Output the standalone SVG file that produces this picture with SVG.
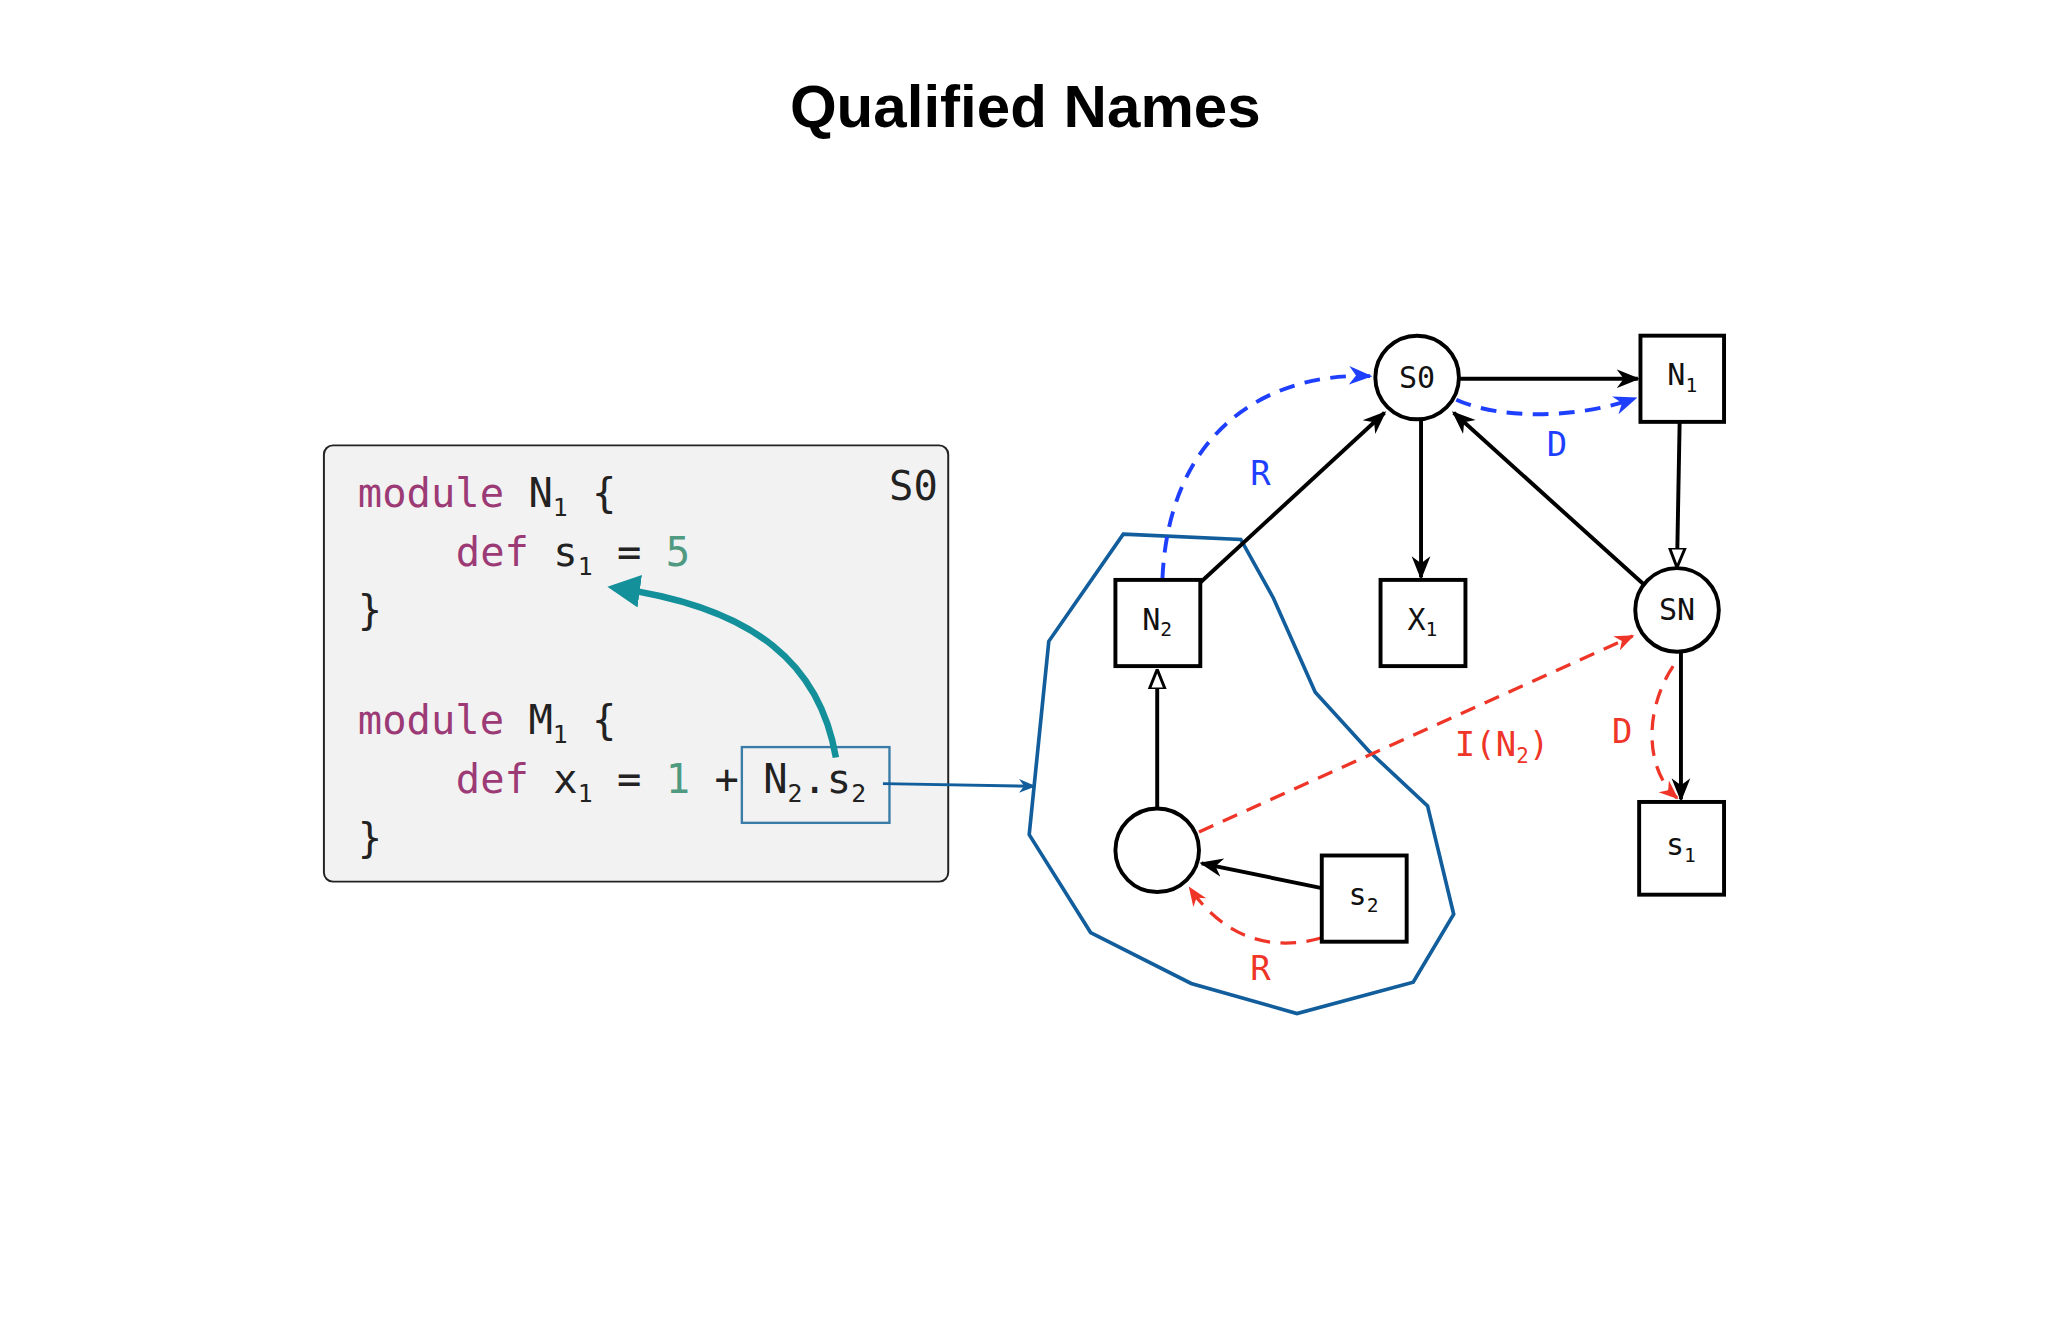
<svg xmlns="http://www.w3.org/2000/svg" width="2048" height="1331" viewBox="0 0 2048 1331">
<style>
.code{font-family:"DejaVu Sans Mono",monospace;font-size:31px;fill:#222}
.kw{fill:#9c3a76}.num{fill:#4f9a80}
.sub{font-size:19px}
.nl{font-family:"DejaVu Sans Mono",monospace;font-size:23px;fill:#111;text-anchor:middle}
.nsub{font-size:15px}
.node{fill:#fff;stroke:#000;stroke-width:3}
.e{fill:none;stroke:#000;stroke-width:3}
.bd{fill:none;stroke:#1f3fff;stroke-width:3;stroke-dasharray:12 8}
.rd{fill:none;stroke:#ee3528;stroke-width:2.5;stroke-dasharray:12 8}
.lb{font-family:"DejaVu Sans Mono",monospace;font-size:26px;text-anchor:middle}
</style>
<defs>
<marker id="ab" viewBox="0 0 10 10" refX="9" refY="5" markerWidth="6" markerHeight="6" orient="auto" markerUnits="strokeWidth"><path d="M0,1 L10,5 L0,9 L3,5 z" fill="#000"/></marker>
<marker id="ah" viewBox="0 0 10 10" refX="9" refY="5" markerWidth="5" markerHeight="5" orient="auto" markerUnits="strokeWidth"><path d="M0,1 L10,5 L0,9 z" fill="#fff" stroke="#000" stroke-width="1.5"/></marker>
<marker id="abl" viewBox="0 0 10 10" refX="9" refY="5" markerWidth="6" markerHeight="6" orient="auto" markerUnits="strokeWidth"><path d="M0,1 L10,5 L0,9 L3,5 z" fill="#1f3fff"/></marker>
<marker id="ar" viewBox="0 0 10 10" refX="9" refY="5" markerWidth="6" markerHeight="6" orient="auto" markerUnits="strokeWidth"><path d="M0,1 L10,5 L0,9 L3,5 z" fill="#ee3528"/></marker>
<marker id="at" viewBox="0 0 10 10" refX="8" refY="5" markerWidth="5" markerHeight="5" orient="auto" markerUnits="strokeWidth"><path d="M0,0 L10,5 L0,10 z" fill="#14909a"/></marker>
<marker id="abb" viewBox="0 0 10 10" refX="9" refY="5" markerWidth="6" markerHeight="6" orient="auto" markerUnits="strokeWidth"><path d="M0,1 L10,5 L0,9 L3,5 z" fill="#125e9c"/></marker>
</defs>
<rect width="2048" height="1331" fill="#fff"/>
<g transform="scale(1.3061)">
<text x="785" y="97" text-anchor="middle" font-family="Liberation Sans,Arial,sans-serif" font-weight="bold" font-size="46">Qualified Names</text>
<g id="code">
<rect x="248" y="341" width="478" height="334" rx="7" fill="#f2f2f3" stroke="#222" stroke-width="1.5"/>
<text x="718" y="383" class="code" font-size="34" text-anchor="end">S0</text>
<text class="code" x="274" y="388"><tspan class="kw">module</tspan> N<tspan class="sub" dy="7">1</tspan><tspan dy="-7"> {</tspan></text>
<text class="code" x="349" y="433"><tspan class="kw">def</tspan> s<tspan class="sub" dy="7">1</tspan><tspan dy="-7"> = </tspan><tspan class="num">5</tspan></text>
<text class="code" x="274" y="478">}</text>
<text class="code" x="274" y="562"><tspan class="kw">module</tspan> M<tspan class="sub" dy="7">1</tspan><tspan dy="-7"> {</tspan></text>
<text class="code" x="349" y="607"><tspan class="kw">def</tspan> x<tspan class="sub" dy="7">1</tspan><tspan dy="-7"> = </tspan><tspan class="num">1</tspan> + N<tspan class="sub" dy="7">2</tspan><tspan dy="-7">.s</tspan><tspan class="sub" dy="7">2</tspan></text>
<text class="code" x="274" y="652">}</text>
<rect x="568" y="572" width="113" height="58" fill="none" stroke="#3a7ca5" stroke-width="1.8"/>
</g>
<g id="connectors">
<path d="M640,580 C628,510 580,465 470,450" fill="none" stroke="#14909a" stroke-width="5" marker-end="url(#at)"/>
<path d="M676,600 L792,602" fill="none" stroke="#125e9c" stroke-width="2.2" marker-end="url(#abb)"/>
<polygon points="860,409 950,413 975,458 1007,530 1048,575 1093,617 1113,700 1082,752 993,776 912,753 835,714 788,639 803,491" fill="none" stroke="#125e9c" stroke-width="2.8"/>
<path class="e" d="M1117,290 L1254,290" stroke-width="4" marker-end="url(#ab)"/>
<path class="e" d="M919,446 L1060,316" marker-end="url(#ab)"/>
<path class="e" d="M1088,322 L1088,442" marker-end="url(#ab)"/>
<path class="e" d="M1258,447 L1113,316" marker-end="url(#ab)"/>
<path class="e" d="M1286,323 L1284,433" marker-end="url(#ah)"/>
<path class="e" d="M1287,500 L1287,612" marker-end="url(#ab)"/>
<path class="e" d="M886,618 L886,514" marker-end="url(#ah)"/>
<path class="e" d="M1012,680 L920,661" marker-end="url(#ab)"/>
<path class="bd" d="M1115,306 C1150,322 1210,320 1252,305" marker-end="url(#abl)"/>
<path class="bd" d="M890,443 C895,330 970,285 1049,288" marker-end="url(#abl)"/>
<path class="rd" d="M918,637 L1250,487" marker-end="url(#ar)"/>
<path class="rd" d="M1281,510 C1258,545 1260,590 1284,611" marker-end="url(#ar)"/>
<path class="rd" d="M1012,718 C970,730 935,715 911,680" marker-end="url(#ar)"/>
<text class="lb" x="965" y="371" fill="#1f3fff">R</text>
<text class="lb" x="1192" y="349" fill="#1f3fff">D</text>
<text class="lb" x="1242" y="569" fill="#ee3528">D</text>
<text class="lb" x="1150" y="579" fill="#ee3528">I(N<tspan font-size="16" dy="5">2</tspan><tspan dy="-5">)</tspan></text>
<text class="lb" x="965" y="750" fill="#ee3528">R</text>
</g>
<g id="S0"><circle class="node" cx="1085" cy="289" r="32"/><text class="nl" x="1085" y="297">S0</text></g>
<g id="N1"><rect class="node" x="1256" y="257" width="64" height="66"/><text class="nl" x="1288" y="295">N<tspan class="nsub" dy="5">1</tspan></text></g>
<g id="N2"><rect class="node" x="854" y="444" width="65" height="66"/><text class="nl" x="886" y="482">N<tspan class="nsub" dy="5">2</tspan></text></g>
<g id="X1"><rect class="node" x="1057" y="444" width="65" height="66"/><text class="nl" x="1089" y="482">X<tspan class="nsub" dy="5">1</tspan></text></g>
<g id="SN"><circle class="node" cx="1284" cy="467" r="32"/><text class="nl" x="1284" y="475">SN</text></g>
<g id="s1"><rect class="node" x="1255" y="614" width="65" height="71"/><text class="nl" x="1287" y="655">s<tspan class="nsub" dy="5">1</tspan></text></g>
<g id="scope"><circle class="node" cx="886" cy="651" r="32"/></g>
<g id="s2"><rect class="node" x="1012" y="655" width="65" height="66"/><text class="nl" x="1044" y="693">s<tspan class="nsub" dy="5">2</tspan></text></g>
</g>
</svg>
